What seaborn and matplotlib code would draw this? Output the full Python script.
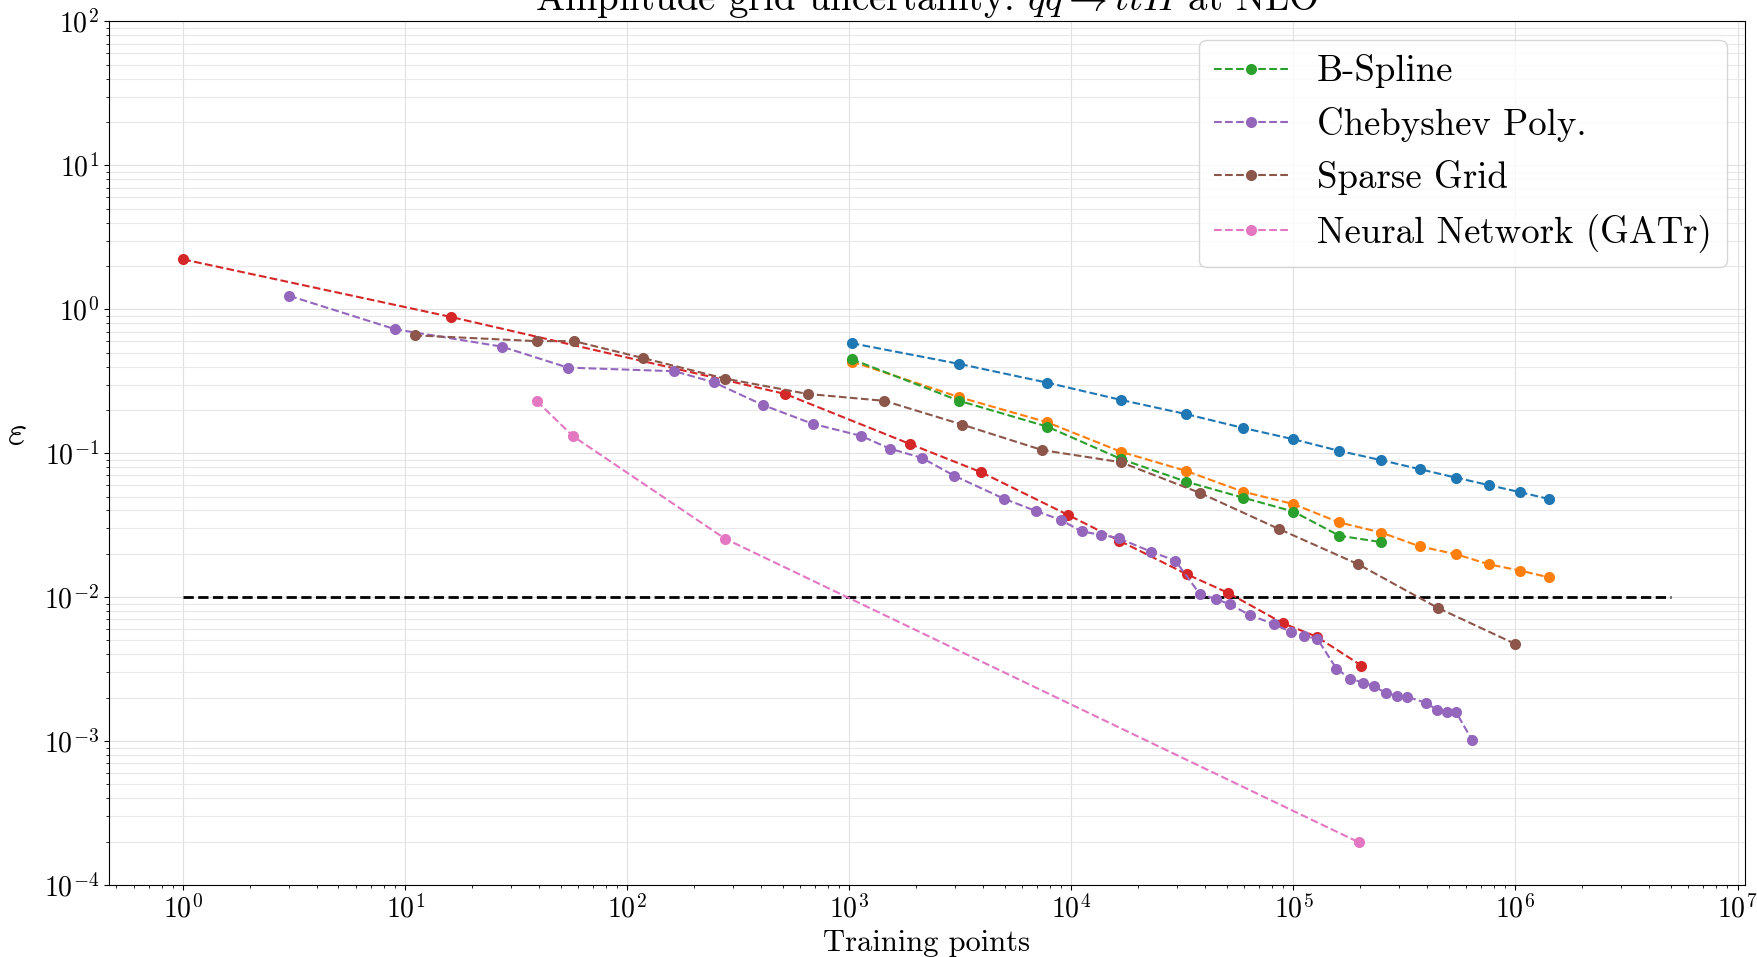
import matplotlib
matplotlib.use("Agg")
import matplotlib.pyplot as plt
import seaborn as sns

# training points (5-dim tensor grids: n^5)
grid_n5 = [1024, 3125, 7776, 16807, 32768, 59049, 100000, 161051,
           248832, 371293, 537824, 759375, 1048576, 1419857]

blue_eps = [0.581, 0.417, 0.309, 0.234, 0.187, 0.150, 0.125, 0.1037,
            0.0894, 0.0774, 0.0677, 0.060, 0.0536, 0.048]
orange_eps = [0.433, 0.245, 0.164, 0.102, 0.0754, 0.0541, 0.0443, 0.033,
              0.0281, 0.0225, 0.0199, 0.0169, 0.0153, 0.0137]

bspline_x = grid_n5[:9]
bspline_eps = [0.450, 0.231, 0.153, 0.0908, 0.0635, 0.0492, 0.0393, 0.0267, 0.0241]

red_x = [1, 16, 514, 1884, 3917, 9700, 16400, 33000, 50800, 89600, 127000, 202000]
red_eps = [2.22, 0.885, 0.258, 0.1155, 0.0738, 0.0371, 0.0247, 0.01445,
           0.0107, 0.00659, 0.00532, 0.00335]

cheb_x = [3, 9, 27.2, 54, 163, 245, 408, 683, 1127, 1517, 2118, 2972, 4950,
          6910, 8950, 11130, 13600, 16300, 22800, 29400, 37800, 44900, 52000,
          63500, 81800, 97000, 112000, 128000, 156000, 179600, 205000, 230600,
          261000, 291800, 323600, 395500, 442600, 490800, 540800, 636800]
cheb_eps = [1.24, 0.726, 0.550, 0.393, 0.371, 0.311, 0.216, 0.160, 0.132,
            0.1077, 0.0928, 0.0696, 0.0484, 0.0397, 0.0344, 0.0286, 0.0271,
            0.0257, 0.0207, 0.0179, 0.01054, 0.00968, 0.00889, 0.0075, 0.00649,
            0.00574, 0.00536, 0.00515, 0.00319, 0.00272, 0.00255, 0.00241,
            0.00215, 0.00207, 0.00204, 0.00184, 0.00165, 0.0016, 0.00158, 0.00102]

sparse_x = [11.0, 39.2, 57.4, 117, 275, 648, 1439, 3221, 7400, 16680, 37900,
            85800, 196000, 446000, 1.0e6]
sparse_eps = [0.659, 0.600, 0.601, 0.459, 0.330, 0.258, 0.231, 0.158, 0.105,
              0.0866, 0.053, 0.0298, 0.0169, 0.00843, 0.00472]

gatr_x = [39.1, 57, 275, 197000]
gatr_eps = [0.230, 0.131, 0.0255, 0.000198]

target_x = [1, 5e6]
target_eps = [0.01, 0.01]

sns.set_style("ticks")
plt.rcParams.update({
    "font.family": ["cmr10", "DejaVu Serif"],
    "mathtext.fontset": "cm",
    "axes.formatter.use_mathtext": True,
    "axes.edgecolor": "black",
    "text.color": "black",
    "axes.labelcolor": "black",
    "xtick.color": "black",
    "ytick.color": "black",
})

fig, ax = plt.subplots(figsize=(17.57, 9.57), dpi=100)
fig.subplots_adjust(left=0.062, right=0.9932, bottom=0.0752, top=0.9777)
ax.set_xscale("log")
ax.set_yscale("log")

sns.lineplot(x=target_x, y=target_eps, color="black", linestyle="--",
             linewidth=2, ax=ax)

series = [
    (grid_n5, blue_eps, "#1f77b4", None),
    (grid_n5, orange_eps, "#ff7f0e", None),
    (bspline_x, bspline_eps, "#2ca02c", "B-Spline"),
    (red_x, red_eps, "#d62728", None),
    (cheb_x, cheb_eps, "#9467bd", "Chebyshev Poly."),
    (sparse_x, sparse_eps, "#8c564b", "Sparse Grid"),
    (gatr_x, gatr_eps, "#e377c2", "Neural Network (GATr)"),
]
for xs, ys, col, lab in series:
    kw = {"label": lab} if lab else {}
    sns.lineplot(x=xs, y=ys, color=col, linestyle="--", linewidth=1.5,
                 marker="o", markersize=8, markeredgewidth=0, ax=ax, **kw)

ax.set_ylim(1e-4, 1e2)
ax.grid(True, which="major", color="#e0e0e0", linewidth=0.8)
ax.yaxis.grid(True, which="minor", color="#e8e8e8", linewidth=0.8)
ax.set_axisbelow(True)

ax.set_title(r"Amplitude grid uncertainty: $q\bar{q}\to t\bar{t}H$ at NLO",
             fontsize=28, pad=6.5)
ax.set_xlabel("Training points", fontsize=22)
ax.set_ylabel(r"$\varepsilon$", fontsize=30, rotation=0, ha="right",
              va="bottom", labelpad=12)
ax.yaxis.label.set_y(0.5)
ax.tick_params(axis="both", which="major", labelsize=20)

ax.legend(loc="upper right", fontsize=26.5)

fig.savefig("out.png", dpi=100)
